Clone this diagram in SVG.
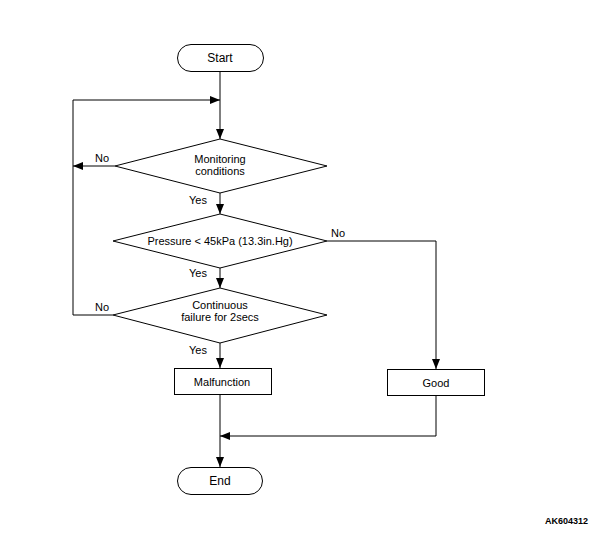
<svg xmlns="http://www.w3.org/2000/svg" width="599" height="537" viewBox="0 0 599 537">
<style>
.s{fill:#fff;stroke:#000;stroke-width:1}
.c{fill:none;stroke:#000;stroke-width:1}
text{font-family:"Liberation Sans",Arial,sans-serif;font-size:11px;fill:#000}
.m{text-anchor:middle}
.t{font-size:12px}
.id{font-size:9px;font-weight:bold;text-anchor:end}
</style>
<defs>
<marker id="a" markerWidth="10" markerHeight="8" refX="10" refY="4" orient="auto" markerUnits="userSpaceOnUse">
<path d="M0,0 L10,4 L0,8 Z" fill="#000"/>
</marker>
</defs>
<rect width="599" height="537" fill="#fff"/>
<g id="connectors">
<path class="c" d="M220,71 V139" marker-end="url(#a)"/>
<path class="c" d="M73,315 V100 H220" marker-end="url(#a)"/>
<path class="c" d="M115,166 H73" marker-end="url(#a)"/>
<path class="c" d="M220,193 V214" marker-end="url(#a)"/>
<path class="c" d="M220,268 V288" marker-end="url(#a)"/>
<path class="c" d="M113,315 H73"/>
<path class="c" d="M220,343 V368" marker-end="url(#a)"/>
<path class="c" d="M327,241 H436 V369" marker-end="url(#a)"/>
<path class="c" d="M220,394 V467" marker-end="url(#a)"/>
<path class="c" d="M436,395 V436 H220" marker-end="url(#a)"/>
<text x="102" y="162" class="m">No</text>
<text x="198" y="204" class="m">Yes</text>
<text x="338" y="237" class="m">No</text>
<text x="198" y="277" class="m">Yes</text>
<text x="102" y="311" class="m">No</text>
<text x="198" y="354" class="m">Yes</text>
</g>
<g id="start">
<rect class="s" x="177.5" y="44.5" width="86" height="27" rx="13.5"/>
<text x="220" y="62" class="m t">Start</text>
</g>
<g id="monitoring">
<polygon class="s" points="220,139 327,166 220,193 115,166"/>
<text x="220" y="163" class="m">Monitoring</text>
<text x="220" y="175" class="m">conditions</text>
</g>
<g id="pressure">
<polygon class="s" points="220,214 327,241 220,268 113,241"/>
<text x="220" y="245" class="m">Pressure &lt; 45kPa (13.3in.Hg)</text>
</g>
<g id="continuous">
<polygon class="s" points="220,288 327,315 220,343 113,315"/>
<text x="220" y="309" class="m">Continuous</text>
<text x="220" y="321" class="m">failure for 2secs</text>
</g>
<g id="malfunction">
<rect class="s" x="174.5" y="368.5" width="97" height="26"/>
<text x="222" y="386" class="m">Malfunction</text>
</g>
<g id="good">
<rect class="s" x="387.5" y="369.5" width="97" height="26"/>
<text x="436" y="387" class="m">Good</text>
</g>
<g id="end">
<rect class="s" x="177.5" y="467.5" width="85" height="27" rx="13.5"/>
<text x="220" y="485" class="m t">End</text>
</g>
<text x="588" y="524" class="id">AK604312</text>
</svg>
